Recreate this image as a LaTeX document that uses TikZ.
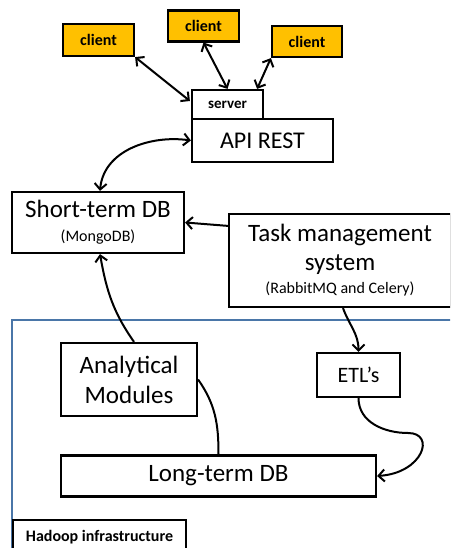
\documentclass[tikz,border=0pt]{standalone}
\usepackage{fontspec}
\setmainfont{Carlito}
\usetikzlibrary{arrows.meta,calc}
\definecolor{clientor}{HTML}{FFC000}
\definecolor{hadoopblue}{HTML}{4A76A8}
\begin{document}
\begin{tikzpicture}[x=1pt,y=1pt,
  box/.style={draw=black, line width=2.2pt, fill=white, inner sep=0pt, align=center},
  clientbox/.style={box, fill=clientor, font=\fontsize{16}{19}\selectfont\bfseries},
  conn/.style={line width=2pt, draw=black},
  >={Straight Barb[length=6pt,width=12pt]}]
\useasboundingbox (0,0) rectangle (450,548);
\clip (0,0) rectangle (450,548);
\fill[white] (0,0) rectangle (450,548);

% Hadoop container
\draw[hadoopblue, line width=2pt] (12,228) rectangle (470,-20);
\node[box, font=\fontsize{16}{19}\selectfont\bfseries, minimum width=173pt, minimum height=34pt] (hlabel) at (99.5,11) {Hadoop infrastructure};

% clients and server
\node[clientbox, minimum width=71pt, minimum height=32pt] (c1) at (98.5,508) {client};
\node[clientbox, minimum width=71pt, minimum height=31pt] (c2) at (203.5,522) {client};
\node[clientbox, minimum width=70pt, minimum height=31pt] (c3) at (307,506.5) {client};
\node[box, font=\fontsize{15}{18}\selectfont\bfseries, minimum width=71pt, minimum height=29pt] (server) at (227.5,443.5) {server};
\node[box, font=\fontsize{24}{29}\selectfont, minimum width=141pt, minimum height=43pt] (api) at (262.5,407.5) {API REST};

% databases and modules
\node[box, font=\fontsize{25}{24}\selectfont, minimum width=172pt, minimum height=61pt] (short) at (98,325.5)
  {Short-term DB\\{\fontsize{16}{19}\selectfont (MongoDB)}};
\node[box, font=\fontsize{25}{29}\selectfont, minimum width=222pt, minimum height=93pt] (task) at (340,287.5)
  {Task management\\system\\[-6pt]{\fontsize{16}{19}\selectfont (RabbitMQ and Celery)}};
\node[box, font=\fontsize{25}{30}\selectfont, minimum width=136pt, minimum height=73pt] (analytical) at (129,168.5)
  {Analytical\\Modules};
\node[box, font=\fontsize{22}{26}\selectfont, minimum width=83pt, minimum height=44pt] (etl) at (358.5,173) {ETL’s};
\node[box, font=\fontsize{25}{30}\selectfont, minimum width=315pt, minimum height=41pt] (long) at (218.5,72) {Long-term DB};

\coordinate (bend) at (408,115);

% connectors
\draw[conn, <->] (c1.south east) -- ($(server.west)+(-1,3.5)$);
\draw[conn, <->] (c2.south) -- (server.north);
\draw[conn, <->] (c3.south west) -- ($(server.north east)+(-7,0)$);
\draw[conn, <->] ($(short.north)+(2,0)$) to[out=85,in=172] (api.west);
\draw[conn, ->] ($(task.north west)+(0,-13)$) -- (short.east);
\draw[conn, ->] ($(analytical.north)+(5,0)$) to[out=125,in=-80] ($(short.south)+(2,0)$);
\draw[conn] (analytical.east) to[out=-55,in=90] (long.north);
\draw[conn, ->] ($(task.south)+(3,0)$) to[out=-70,in=90] (etl.north);
\draw[conn, ->] (etl.south) .. controls +(0,-24) and (384,115) .. (bend)
  .. controls (436,115) and ($(long.east)+(46,3)$) .. (long.east);
\end{tikzpicture}
\end{document}
